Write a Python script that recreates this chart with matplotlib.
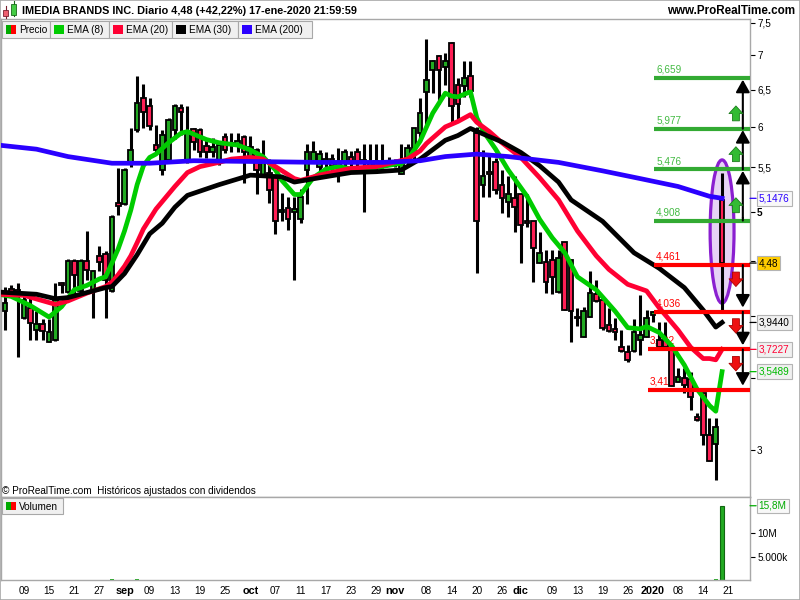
"""
IMEDIA BRANDS INC. - grafico diario con EMAs, niveles y volumen (estilo ProRealTime).
"""
import matplotlib
matplotlib.use("Agg")
import matplotlib.pyplot as plt
import numpy as np
from matplotlib.patches import Ellipse, Rectangle
from matplotlib.lines import Line2D

plt.rcParams["font.family"] = ["Liberation Sans", "DejaVu Sans"]

W, H = 800, 600

# velas diarias, 06-ago-2019 .. 17-ene-2020 (indice = sesion)
opens = [4.04, 4.24, 4.23, 3.98, 4.07, 3.88, 3.93, 3.78, 3.80, 4.29,
         4.21, 4.50, 4.22, 4.50, 4.22, 4.55, 4.57, 4.22, 5.10, 5.08,
         5.57, 5.96, 6.38, 6.28, 5.77, 5.47, 5.59, 5.96, 6.25, 5.59,
         5.97, 5.96, 5.76, 5.68, 5.57, 5.87, 5.80, 5.77, 5.87, 5.62,
         5.71, 5.40, 5.44, 5.40, 5.00, 5.04, 5.00, 4.92, 5.47, 5.57,
         5.51, 5.55, 5.60, 5.55, 5.56, 5.62, 5.69, 5.55, 5.48, 5.58,
         5.55, 5.55, 5.56, 5.42, 5.57, 5.68, 5.92, 6.46, 6.78, 6.98,
         6.82, 7.18, 6.56, 6.55, 6.69, 5.92, 5.30, 5.45, 5.56, 5.30,
         5.11, 5.15, 5.19, 4.90, 4.90, 4.48, 4.49, 4.51, 4.21, 4.69,
         4.51, 3.99, 3.82, 3.99, 4.19, 4.14, 3.92, 3.89, 3.74, 3.70,
         3.71, 3.80, 3.82, 4.01, 3.80, 3.80, 3.72, 3.47, 3.50, 3.49,
         3.22, 3.39, 3.10, 3.04, 5.13]
highs = [4.26, 4.27, 4.29, 4.21, 4.16, 4.04, 3.97, 3.97, 4.29, 4.30,
         4.52, 4.52, 4.52, 4.80, 4.41, 4.65, 4.60, 4.97, 5.49, 5.49,
         5.99, 6.69, 6.58, 6.38, 6.03, 5.96, 6.12, 6.30, 6.30, 6.28,
         5.99, 5.98, 5.84, 5.86, 5.80, 5.92, 5.92, 5.92, 5.90, 5.88,
         5.74, 5.83, 5.60, 5.40, 5.21, 5.16, 5.16, 5.25, 5.79, 5.82,
         5.71, 5.69, 5.66, 5.74, 5.72, 5.70, 5.74, 5.79, 5.79, 5.79,
         5.79, 5.62, 5.60, 5.79, 5.79, 5.99, 6.38, 7.25, 6.93, 7.00,
         7.03, 7.20, 6.67, 6.91, 6.91, 6.00, 5.71, 5.64, 5.61, 5.47,
         5.40, 5.40, 5.20, 5.19, 4.90, 4.79, 4.61, 4.61, 4.61, 4.69,
         4.51, 4.07, 4.08, 4.40, 4.32, 4.14, 4.07, 3.98, 3.88, 3.76,
         3.97, 4.18, 4.05, 4.04, 3.95, 3.95, 3.72, 3.58, 3.58, 3.55,
         3.25, 3.39, 3.21, 3.21, 5.43]
lows = [3.88, 4.18, 3.66, 3.97, 3.80, 3.80, 3.80, 3.78, 3.79, 4.20,
        4.20, 4.19, 4.20, 4.32, 3.98, 4.40, 3.98, 4.21, 4.97, 5.07,
        5.50, 5.93, 5.99, 5.96, 5.69, 5.41, 5.55, 5.85, 5.90, 5.55,
        5.71, 5.62, 5.61, 5.62, 5.53, 5.67, 5.69, 5.69, 5.32, 5.59,
        5.19, 5.40, 5.10, 4.77, 4.90, 4.81, 4.32, 4.88, 5.09, 5.55,
        5.46, 5.44, 5.40, 5.33, 5.44, 5.47, 5.50, 5.00, 5.44, 5.44,
        5.49, 5.52, 5.50, 5.42, 5.52, 5.60, 5.84, 6.02, 6.45, 6.30,
        6.57, 6.04, 6.09, 6.40, 6.40, 4.39, 5.16, 5.16, 5.20, 4.99,
        4.95, 4.79, 4.48, 4.84, 4.30, 4.48, 4.20, 4.19, 4.20, 4.05,
        3.78, 3.91, 3.82, 3.99, 4.12, 3.88, 3.86, 3.80, 3.70, 3.62,
        3.70, 3.68, 3.82, 3.95, 3.74, 3.72, 3.44, 3.47, 3.39, 3.27,
        3.19, 3.03, 2.93, 2.81, 4.04]
closes = [4.11, 4.20, 4.21, 4.14, 3.94, 3.93, 3.87, 3.86, 4.16, 4.27,
          4.50, 4.37, 4.50, 4.41, 4.40, 4.49, 4.32, 4.95, 5.06, 5.47,
          5.71, 6.32, 6.19, 6.01, 5.71, 5.90, 6.09, 6.27, 6.19, 5.94,
          5.81, 5.68, 5.69, 5.75, 5.77, 5.71, 5.78, 5.82, 5.68, 5.75,
          5.47, 5.63, 5.24, 4.90, 5.02, 4.92, 5.03, 5.16, 5.69, 5.69,
          5.66, 5.60, 5.52, 5.52, 5.69, 5.55, 5.57, 5.59, 5.55, 5.50,
          5.52, 5.58, 5.54, 5.56, 5.74, 5.98, 6.18, 6.64, 6.91, 6.78,
          6.91, 6.27, 6.30, 6.67, 6.48, 4.90, 5.40, 5.42, 5.24, 5.15,
          5.19, 5.05, 4.86, 4.88, 4.63, 4.58, 4.30, 4.35, 4.53, 4.05,
          4.04, 3.98, 4.04, 4.20, 4.13, 3.90, 3.87, 3.86, 3.71, 3.64,
          3.86, 3.84, 3.98, 4.03, 3.74, 3.74, 3.44, 3.51, 3.45, 3.36,
          3.20, 3.10, 2.93, 3.15, 4.48]
# volumen en millones
volumes = [0.03, 0.02, 0.04, 0.02, 0.03, 0.02, 0.02, 0.02, 0.04, 0.03,
           0.03, 0.02, 0.03, 0.03, 0.02, 0.02, 0.03, 0.30, 0.05, 0.04,
           0.04, 0.30, 0.05, 0.04, 0.03, 0.03, 0.04, 0.03, 0.03, 0.03,
           0.02, 0.02, 0.02, 0.02, 0.02, 0.03, 0.02, 0.02, 0.03, 0.02,
           0.03, 0.03, 0.03, 0.04, 0.03, 0.03, 0.04, 0.02, 0.04, 0.03,
           0.02, 0.02, 0.02, 0.02, 0.02, 0.02, 0.02, 0.03, 0.02, 0.02,
           0.02, 0.01, 0.02, 0.02, 0.02, 0.03, 0.04, 0.05, 0.03, 0.03,
           0.03, 0.04, 0.03, 0.03, 0.02, 0.05, 0.03, 0.02, 0.03, 0.02,
           0.02, 0.03, 0.03, 0.02, 0.03, 0.02, 0.03, 0.02, 0.02, 0.03,
           0.03, 0.02, 0.02, 0.03, 0.02, 0.02, 0.02, 0.02, 0.02, 0.02,
           0.03, 0.03, 0.02, 0.02, 0.03, 0.02, 0.03, 0.03, 0.02, 0.03,
           0.03, 0.04, 0.04, 0.30, 15.8]

# medias exponenciales (sesion, valor)
ema8_idx = [-1, 1, 4, 7, 9, 11, 13, 15, 16, 17, 18, 19, 20, 21, 22, 23, 24, 26,
            28, 29, 32, 34, 37, 39, 41, 43, 44, 46, 47, 49, 51, 53, 56, 59, 63,
            64, 66, 68, 70, 71, 72, 74, 75, 76, 78, 80, 83, 85, 87, 89, 91, 94,
            97, 99, 101, 102, 104, 106, 108, 110, 112, 113, 114]
ema8_val = [4.19, 4.17, 4.09, 3.99, 4.08, 4.23, 4.27, 4.33, 4.35, 4.48, 4.62,
            4.80, 5.02, 5.30, 5.52, 5.62, 5.66, 5.80, 5.92, 5.94, 5.84, 5.80,
            5.77, 5.71, 5.63, 5.47, 5.35, 5.19, 5.19, 5.38, 5.48, 5.51, 5.47,
            5.50, 5.55, 5.59, 5.82, 6.18, 6.45, 6.41, 6.40, 6.47, 6.12, 5.95,
            5.72, 5.47, 5.17, 4.92, 4.73, 4.58, 4.35, 4.23, 4.04, 3.90, 3.89,
            3.91, 3.86, 3.75, 3.60, 3.42, 3.30, 3.26, 3.5489]
ema20_idx = [-1, 3, 8, 10, 13, 16, 17, 18, 19, 20, 21, 22, 24, 27, 29, 31, 34,
             36, 39, 41, 43, 46, 47, 50, 55, 59, 64, 66, 67, 70, 72, 74, 75, 77,
             79, 82, 85, 88, 91, 94, 96, 99, 101, 102, 104, 107, 109, 111, 112,
             113, 114]
ema20_val = [4.19, 4.18, 4.10, 4.13, 4.20, 4.26, 4.30, 4.37, 4.45, 4.55, 4.68,
             4.82, 5.03, 5.28, 5.44, 5.51, 5.56, 5.60, 5.62, 5.60, 5.51, 5.37,
             5.35, 5.41, 5.49, 5.51, 5.60, 5.70, 5.79, 6.00, 6.07, 6.16, 6.06,
             5.94, 5.80, 5.62, 5.38, 5.13, 4.80, 4.55, 4.42, 4.28, 4.24, 4.22,
             4.07, 3.88, 3.74, 3.65, 3.65, 3.64, 3.7227]
ema30_idx = [-1, 5, 8, 10, 14, 16, 17, 19, 21, 23, 25, 27, 29, 34, 39, 44, 46,
             50, 55, 59, 63, 66, 70, 72, 74, 76, 79, 82, 85, 88, 90, 95, 100,
             104, 108, 111, 113, 114]
ema30_val = [4.21, 4.19, 4.15, 4.16, 4.22, 4.25, 4.26, 4.38, 4.56, 4.77, 4.88,
             5.05, 5.18, 5.30, 5.41, 5.39, 5.33, 5.38, 5.44, 5.45, 5.47, 5.60,
             5.83, 5.89, 5.98, 5.91, 5.81, 5.68, 5.52, 5.33, 5.13, 4.90, 4.58,
             4.43, 4.25, 4.05, 3.905, 3.944]
ema200_idx = [-1, 5, 10, 17, 23, 30, 40, 50, 60, 66, 70, 75, 80, 88, 95, 101,
              107, 112, 114]
ema200_val = [5.77, 5.72, 5.63, 5.55, 5.55, 5.58, 5.57, 5.56, 5.56, 5.58, 5.63,
              5.66, 5.63, 5.56, 5.46, 5.37, 5.28, 5.17, 5.1476]

# niveles dibujados a mano
up_levels = [4.908, 5.476, 5.977, 6.659]
down_levels = [4.461, 4.036, 3.722, 3.413]
down_labels = ["4,461", "4,036", "3,722", "3,413"]

# eje temporal
tick_idx = [3, 7, 11, 15, 19, 23, 27, 31, 35, 39, 43, 47, 51, 55, 59, 62, 67,
            71, 75, 79, 82, 87, 91, 95, 99, 103, 107, 111, 115]
tick_lbl = ["09", "15", "21", "27", "sep", "09", "13", "19", "25", "oct", "07",
            "11", "17", "23", "29", "nov", "08", "14", "20", "26", "dic", "09",
            "13", "19", "26", "2020", "08", "14", "21"]
# 4,5 / 4 / 3,5 quedan tapados por las cajas de valor
price_ticks = [3, 3.5, 4, 4.5, 5, 5.5, 6, 6.5, 7, 7.5]
price_lbl = ["3", "", "", "", "5", "5,5", "6", "6,5", "7", "7,5"]

GREEN = "#22aa22"
RED = "#ff1f55"
C_EMA8, C_EMA20, C_EMA30, C_EMA200 = "#00cc00", "#ff0033", "#000000", "#2a00ff"
GRID = "#a8a8a8"


def fx(px):
    return px / W


def fy(py):
    return 1 - py / H


def comma(v, fmt="{:g}"):
    return fmt.format(v).replace(".", ",")


fig = plt.figure(figsize=(8, 6), dpi=100)
ax = fig.add_axes([fx(1), fy(497), fx(750) - fx(1), fy(19) - fy(497)])
axv = fig.add_axes([fx(1), fy(580), fx(750) - fx(1), fy(497) - fy(580)])

for a in (ax, axv):
    for s in a.spines.values():
        s.set_color(GRID)
        s.set_linewidth(1)
    a.set_xlim(-0.64, 118.44)

# --- precio ---
o, h, l, c = map(np.array, (opens, highs, lows, closes))
idx = np.arange(len(c))
up = c >= o
ax.vlines(idx, l, h, color="black", lw=2.2, zorder=2)
lo_b = np.minimum(o, c)
hi_b = np.maximum(o, c)
ax.bar(idx, np.maximum(hi_b - lo_b, 0.01), bottom=lo_b, width=0.74,
       color=np.where(up, GREEN, RED), edgecolor="black", linewidth=1.3, zorder=3)

ax.plot(ema8_idx, ema8_val, color=C_EMA8, lw=3.4, zorder=4)
ax.plot(ema20_idx, ema20_val, color=C_EMA20, lw=3.4, zorder=4)
ax.plot(ema30_idx, ema30_val, color=C_EMA30, lw=3.4, zorder=4)
ax.plot(ema200_idx, ema200_val, color=C_EMA200, lw=3.4, zorder=4.5)

ax.set_yscale("log")
ax.set_ylim(2.712, 7.563)
ax.set_xticks([])
ax.yaxis.tick_right()
ax.set_yticks(price_ticks)
ax.set_yticklabels(price_lbl)
ax.yaxis.set_minor_locator(matplotlib.ticker.NullLocator())
ax.tick_params(axis="y", length=3.6, width=0.8, pad=1.5, labelsize=7.2)
for t, lab in zip(price_ticks, ax.get_yticklabels()):
    if t == 5:
        lab.set_fontweight("bold")

# niveles (verde arriba, rojo abajo)
x_lvl = 103.2
for v in up_levels:
    ax.hlines(v, x_lvl, 120, color="#33aa33", lw=3, zorder=5)
    ax.annotate(comma(v, "{:.3f}"), (x_lvl, v), xytext=(1.5, 2.5),
                textcoords="offset points", color="#44bb44", fontsize=7.2,
                va="bottom", zorder=1.5)
for k, (v, lab) in enumerate(zip(down_levels, down_labels)):
    x0 = x_lvl if k < 2 else x_lvl - 1
    ax.hlines(v, x0, 120, color="#ff0000", lw=3, zorder=5)
    ax.annotate(lab, (x0, v), xytext=(1.5, 2.5), textcoords="offset points",
                color="#ff0000", fontsize=7.2, va="bottom", zorder=1.5)

# cadena de flechas negras
x_arr = 117.3
for a0, a1 in zip(up_levels[:-1], up_levels[1:]):
    ax.annotate("", xy=(x_arr, a1), xytext=(x_arr, a0),
                arrowprops=dict(arrowstyle="-|>,head_length=0.75,head_width=0.42",
                                color="black", lw=1.5, shrinkA=0, shrinkB=1),
                zorder=6)
ax.annotate("", xy=(x_arr, up_levels[0] * 1.012), xytext=(x_arr, up_levels[0]),
            arrowprops=dict(arrowstyle="-", color="black", lw=1.5), zorder=6)
for a0, a1 in zip(down_levels[:-1], down_levels[1:]):
    ax.annotate("", xy=(x_arr, a1), xytext=(x_arr, a0),
                arrowprops=dict(arrowstyle="-|>,head_length=0.75,head_width=0.42",
                                color="black", lw=1.5, shrinkA=0, shrinkB=3),
                zorder=6)

# flechas de bloque
x_blk = 116.2
for v in up_levels[:-1]:
    ax.annotate("", xy=(x_blk, v * 1.05), xytext=(x_blk, v * 1.017),
                arrowprops=dict(arrowstyle="simple,head_length=0.55,head_width=1.0,tail_width=0.5",
                                fc="#33bb33", ec="#1d7d1d", lw=0.6, shrinkA=0, shrinkB=0),
                zorder=6)
for v in down_levels[:-1]:
    ax.annotate("", xy=(x_blk, v * 0.955), xytext=(x_blk, v * 0.985),
                arrowprops=dict(arrowstyle="simple,head_length=0.55,head_width=1.0,tail_width=0.5",
                                fc="#ee1111", ec="#aa0000", lw=0.6, shrinkA=0, shrinkB=0),
                zorder=6)

# elipse sobre la ultima vela
inv = ax.transAxes.inverted()
ex, ey_top = inv.transform(ax.transData.transform((114, 5.59)))
_, ey_bot = inv.transform(ax.transData.transform((114, 4.11)))
ew = inv.transform(ax.transData.transform((115.9, 5)))[0] - inv.transform(ax.transData.transform((112.1, 5)))[0]
ax.add_patch(Ellipse((ex, (ey_top + ey_bot) / 2), ew, ey_top - ey_bot,
                     transform=ax.transAxes, fc="#e6d3f5", ec="#8a1fd0", lw=2.3, zorder=1))

# cajas de valor en el eje derecho


def value_box(axis, value, text, fc, tc, bold=False):
    axis.annotate(text, xy=(1, value), xycoords=axis.get_yaxis_transform(),
                  xytext=(6.3, 0), textcoords="offset points", va="center", ha="left",
                  fontsize=7.2, color=tc, fontweight="bold" if bold else "normal",
                  bbox=dict(boxstyle="square,pad=0.22", fc=fc, ec="#b4b4b4", lw=0.8),
                  arrowprops=dict(arrowstyle="-", color=tc, lw=0.9, shrinkA=0, shrinkB=0),
                  annotation_clip=False, zorder=8)


value_box(ax, ema200_val[-1], comma(ema200_val[-1], "{:.4f}"), "#f8f8f8", C_EMA200)
value_box(ax, closes[-1], comma(closes[-1], "{:.2f}"), "#ffcc00", "black")
value_box(ax, ema30_val[-1], comma(ema30_val[-1], "{:.4f}"), "#f0f0f0", "black")
value_box(ax, ema20_val[-1], comma(ema20_val[-1], "{:.4f}"), "#f0f0f0", C_EMA20)
value_box(ax, ema8_val[-1], comma(ema8_val[-1], "{:.4f}"), "#f0f0f0", "#00bb00")

# --- volumen ---
vcol = [GREEN if i == 0 or closes[i] >= closes[i - 1] else RED for i in range(len(closes))]
vlw = [0.8 if v > 1 else 0 for v in volumes]
axv.bar(idx, volumes, width=0.62, color=vcol, edgecolor="#116611", linewidth=vlw)
axv.set_ylim(0, 17.66)
axv.yaxis.tick_right()
axv.set_yticks([5, 10])
axv.set_yticklabels(["5.000k", "10M"])
axv.tick_params(axis="y", length=3.6, width=0.8, pad=1.5, labelsize=7.2)
axv.set_xticks(tick_idx)
axv.set_xticklabels(tick_lbl)
axv.tick_params(axis="x", length=0, pad=4.5, labelsize=7.2)
for lab in axv.get_xticklabels():
    if not lab.get_text().isdigit() or lab.get_text() == "2020":
        lab.set_fontweight("bold")
        lab.set_fontsize(7.8)
value_box(axv, volumes[-1], comma(volumes[-1], "{:.1f}") + "M", "#f8f8f8", "#00aa00")

# --- cabecera y leyendas ---
fig.add_artist(Rectangle((0, 0), 1, 1, transform=fig.transFigure, fill=False,
                         ec=GRID, lw=1.2, zorder=20))
# icono de velas
fig.add_artist(Line2D([fx(5.5), fx(5.5)], [fy(6), fy(18)], color="#7a2030", lw=0.8, zorder=11))
fig.add_artist(Rectangle((fx(3), fy(16)), fx(5), fy(10) - fy(16), transform=fig.transFigure,
                         fc="#ee6070", ec="#7a2030", lw=0.6, zorder=12))
fig.add_artist(Line2D([fx(13.5), fx(13.5)], [fy(1), fy(16)], color="#1a6a1a", lw=0.8, zorder=11))
fig.add_artist(Rectangle((fx(11), fy(15)), fx(5), fy(4) - fy(15), transform=fig.transFigure,
                         fc="#44cc44", ec="#1a6a1a", lw=0.6, zorder=12))
fig.text(fx(22), fy(10.5), "IMEDIA BRANDS INC. Diario 4,48 (+42,22%) 17-ene-2020 21:59:59",
         fontsize=7.8, fontweight="bold", va="center", ha="left")
fig.text(fx(795), fy(10.5), "www.ProRealTime.com", fontsize=8.4, fontweight="bold",
         va="center", ha="right")


def legend_box(x0, x1, y0, y1, text, colors):
    fig.add_artist(Rectangle((fx(x0), fy(y1)), fx(x1) - fx(x0), fy(y0) - fy(y1),
                             transform=fig.transFigure, fc="#f0f0f0", ec="#a8a8a8",
                             lw=0.8, zorder=12))
    sw = 10 / len(colors)
    for k, col in enumerate(colors):
        fig.add_artist(Rectangle((fx(x0 + 4 + k * sw), fy(y1 - 4)), fx(sw), fy(y0 + 4) - fy(y1 - 4),
                                 transform=fig.transFigure, fc=col, ec="none", zorder=13))
    fig.text(fx(x0 + 17), fy((y0 + y1) / 2 + 0.5), text, fontsize=7.2, va="center",
             ha="left", zorder=13)


leg_edges = [2, 50, 109, 172, 238, 312]
leg_text = ["Precio", "EMA (8)", "EMA (20)", "EMA (30)", "EMA (200)"]
leg_cols = [["#00aa00", "#ff0000"], [C_EMA8], [C_EMA20], [C_EMA30], [C_EMA200]]
for k in range(5):
    legend_box(leg_edges[k], leg_edges[k + 1], 21, 38, leg_text[k], leg_cols[k])
legend_box(2, 63, 498, 514, "Volumen", ["#00aa00", "#ff0000"])

fig.text(fx(2), fy(491), "\u00a9 ProRealTime.com  Hist\u00f3ricos ajustados con dividendos",
         fontsize=7.2, va="center", ha="left", zorder=13)

fig.savefig("out.png", dpi=100)
